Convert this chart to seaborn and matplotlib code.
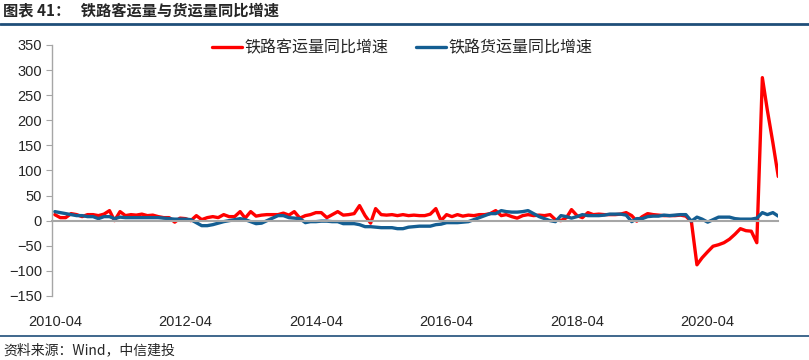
import numpy as np
import pandas as pd
import seaborn as sns
import matplotlib.pyplot as plt
from matplotlib.lines import Line2D

# 铁路客运量同比增速 (%), 月度, 2010-04 起
passenger = [
    12, 6, 6, 14, 12, 8, 12, 12, 10, 13, 20, 0,            # 2010-04 .. 2011-03
    18, 10, 12, 11, 13, 10, 11, 8, 6, 6, -3, 5,            # 2011-04 .. 2012-03
    4, 0, 10, 2, 6, 8, 6, 12, 8, 8, 18, 5,                 # 2012-04 .. 2013-03
    18, 9, 11, 12, 12, 12, 15, 11, 18, 5, 10, 12,          # 2013-04 .. 2014-03
    16, 16, 6, 12, 18, 11, 12, 14, 30, 10, -5, 24,         # 2014-04 .. 2015-03
    12, 11, 12, 10, 12, 10, 11, 10, 10, 13, 24, 0,         # 2015-04 .. 2016-03
    12, 8, 12, 9, 11, 10, 12, 12, 14, 20, 10, 12,          # 2016-04 .. 2017-03
    8, 5, 10, 12, 10, 11, 10, 12, 2, 0, 6, 22,             # 2017-04 .. 2018-03
    10, 6, 16, 12, 13, 12, 12, 12, 13, 16, 10, -1,         # 2018-04 .. 2019-03
    8, 14, 12, 11, 10, 10, 10, 11, 9, -2, -88, -74,        # 2019-04 .. 2020-03
    -62, -51, -48, -44, -37, -27, -16, -20, -21, -44, 285, 220,  # 2020-04 .. 2021-03
    155, 88,                                               # 2021-04 .. 2021-05
]

# 铁路货运量同比增速 (%)
freight = [
    18, 16, 14, 12, 10, 10, 8, 8, 4, 8, 8, 4,
    7, 6, 6, 6, 6, 6, 6, 6, 5, 4, 3, 3,
    3, 2, -4, -10, -10, -8, -5, -2, 0, 2, 4, 2,
    -2, -6, -5, 0, 5, 10, 10, 6, 5, 4, -4, -2,
    -2, -1, -1, -2, -2, -6, -6, -6, -8, -12, -12, -13,
    -14, -14, -14, -16, -16, -13, -12, -11, -11, -11, -8, -7,
    -4, -4, -4, -3, -2, 2, 6, 10, 14, 14, 20, 18,
    17, 17, 18, 20, 14, 8, 4, 0, -2, 10, 8, 5,
    8, 12, 10, 10, 10, 11, 13, 13, 13, 11, -2, 4,
    4, 8, 9, 9, 11, 10, 11, 12, 12, -1, 7, 3,
    -3, 2, 7, 7, 7, 4, 3, 3, 3, 5, 16, 12,
    16, 9,
]

months = pd.date_range("2010-04-01", periods=len(passenger), freq="MS")
series_names = ["铁路客运量同比增速", "铁路货运量同比增速"]
tick_labels = ["2010-04", "2012-04", "2014-04", "2016-04", "2018-04", "2020-04"]
y_ticks = list(range(-150, 351, 50))

df = pd.DataFrame({"date": months, series_names[0]: passenger, series_names[1]: freight})
long_df = df.melt(id_vars="date", var_name="series", value_name="value")

sns.set_style("white")
plt.rcParams["font.family"] = ["Liberation Sans", "Noto Sans CJK SC", "DejaVu Sans"]

RED = "#FF0000"
BLUE = "#145E92"

fig = plt.figure(figsize=(8.09, 3.6), dpi=100)
ax = fig.add_axes([0.064, 0.178, 0.898, 0.697])

# red first, blue drawn on top (as in the source)
sns.lineplot(data=long_df, x="date", y="value", hue="series",
             palette={series_names[0]: RED, series_names[1]: BLUE},
             hue_order=series_names, linewidth=2.4, legend=False, ax=ax)

ax.set_ylim(-150, 350)
ax.set_yticks(y_ticks)
ax.set_xlim(months[0] - pd.Timedelta(days=17), months[-1])
ax.set_xlabel("")
ax.set_ylabel("")

# x axis sits on zero, labels pushed down to the bottom
ax.spines["bottom"].set_position(("data", 0))
for s in ["top", "right"]:
    ax.spines[s].set_visible(False)
ax.spines["bottom"].set_color("#A6A6A6")
ax.spines["bottom"].set_linewidth(1.5)
ax.spines["left"].set_color("#A6A6A6")
ax.spines["left"].set_linewidth(1.0)

tick_dates = pd.to_datetime(tick_labels)
ax.set_xticks(tick_dates)
ax.set_xticklabels(tick_labels)
ax.tick_params(axis="x", direction="out", length=4, color="#A6A6A6", pad=64,
               labelsize=10.5)
ax.tick_params(axis="y", direction="out", length=4, color="#A6A6A6", labelsize=10.5,
               left=True, pad=3)

handles = [Line2D([], [], color=RED, lw=2.4), Line2D([], [], color=BLUE, lw=2.4)]
fig.legend(handles, series_names, loc="center", bbox_to_anchor=(0.497, 0.866),
           ncol=2, frameon=False, handlelength=1.9, handletextpad=0.15,
           columnspacing=1.7, prop={"family": ["Noto Sans CJK SC"], "size": 11.5})

# header / footer
fig.text(0.004, 0.972, "图表 41：   铁路客运量与货运量同比增速", ha="left", va="center",
         fontsize=11, fontweight="bold", family=["Noto Sans CJK SC", "DejaVu Sans"])
fig.add_artist(Line2D([0, 1], [0.934, 0.934], color="#1F4E79", lw=2.0,
                      transform=fig.transFigure))
fig.add_artist(Line2D([0, 1], [0.067, 0.067], color="#1F4E79", lw=1.2,
                      transform=fig.transFigure))
fig.text(0.004, 0.027, "资料来源：Wind，中信建投", ha="left", va="center",
         fontsize=10, style="italic", family=["Noto Sans CJK SC", "DejaVu Sans"])

fig.savefig("out.png", dpi=100)
